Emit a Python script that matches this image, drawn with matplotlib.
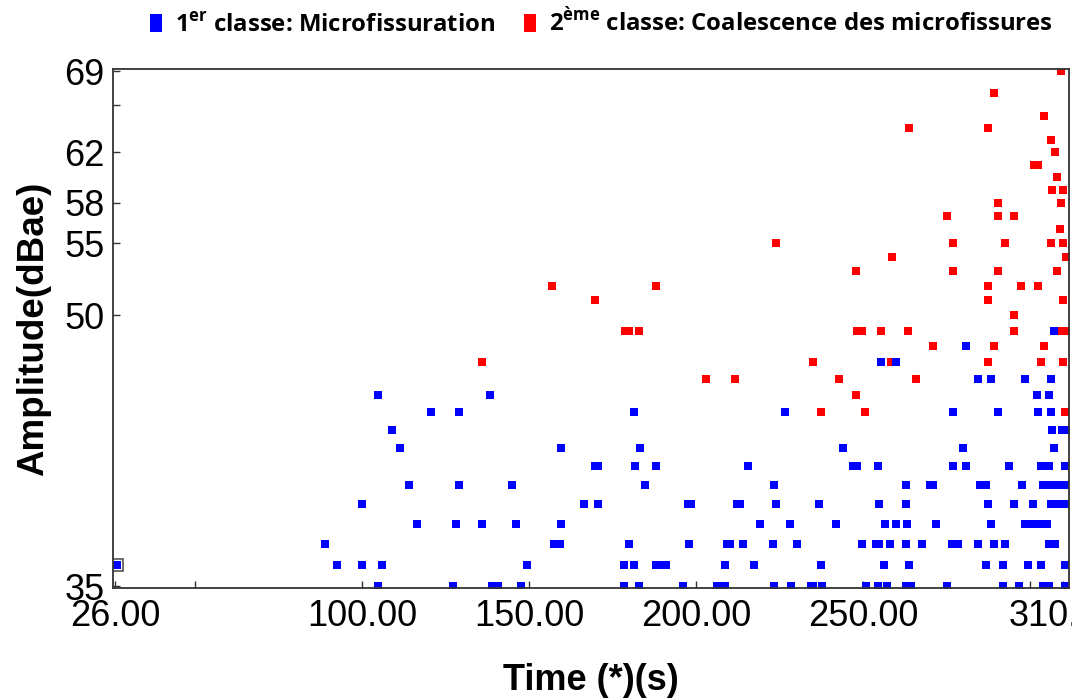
import matplotlib
matplotlib.use('Agg')
import matplotlib.pyplot as plt
from matplotlib.lines import Line2D
from matplotlib.ticker import FixedLocator, NullFormatter, FixedFormatter
from matplotlib.transforms import Bbox, TransformedBbox

# class 1 (blue) : time (s), amplitude (dB)
blue_t = [307.3,
          280.9,
          255.3, 259.8,
          284.4, 288.3, 298.4, 306.3,
          104.8, 138.4, 302.0, 305.7,
          120.6, 129.0, 181.4, 226.6, 277.0, 290.5, 302.3, 306.3,
          109.0, 306.5, 309.5, 310.7,
          111.4, 159.5, 183.1, 243.9, 280.0, 307.2,
          169.7, 170.7, 181.8, 187.9, 215.5, 247.0, 248.1, 254.5, 277.0, 280.9,
          293.8, 303.3, 305.7, 310.5,
          114.2, 129.0, 144.8, 184.6, 223.4, 262.8, 270.2, 271.1, 285.0, 286.8,
          297.5, 303.9, 306.0, 308.1, 310.4,
          99.9, 166.5, 170.7, 197.6, 198.5, 212.4, 213.3, 224.0, 236.7, 254.8,
          262.8, 287.4, 295.1, 300.9, 306.3, 308.4, 310.4,
          116.4, 128.0, 136.0, 146.0, 159.5, 219.2, 228.1, 241.9, 256.7, 260.0,
          263.1, 271.9, 288.3, 298.4, 300.6, 302.9, 305.0,
          88.9, 157.4, 159.3, 179.8, 197.9, 209.3, 210.2, 214.1, 223.0, 230.3,
          249.7, 253.9, 254.7, 258.0, 262.9, 267.8, 276.7, 278.4, 284.4, 289.2,
          292.5, 305.7, 307.4,
          26.5, 92.5, 99.9, 105.9, 149.3, 178.5, 181.5, 187.9, 189.5, 191.1,
          208.6, 217.5, 237.4, 256.2, 263.7, 286.8, 291.9, 299.3, 303.3, 310.5,
          104.8, 127.1, 138.8, 140.6, 147.6, 178.5, 183.0, 196.1, 206.2, 208.6,
          223.4, 228.4, 234.3, 235.0, 237.8, 250.8, 254.4, 257.1, 262.9, 264.5,
          275.1, 291.9, 296.6, 303.9, 305.7, 310.5]
blue_a = ([49] + [48] + [47] * 2 + [46] * 4 + [45] * 4 + [44] * 8 + [43] * 4
          + [42] * 6 + [41] * 14 + [40] * 15 + [39] * 17 + [38] * 17
          + [37] * 23 + [36] * 20 + [35] * 26)

# class 2 (red)
red_t = [309.4,
         289.2,
         304.2,
         263.7, 287.3,
         306.3,
         307.5,
         301.3, 302.4,
         308.1,
         306.5, 309.8,
         290.5, 309.4,
         275.2, 290.5, 295.1,
         309.0,
         224.0, 277.0, 292.4, 306.3, 309.8,
         258.6, 310.7,
         248.0, 277.0, 290.5, 308.1,
         157.0, 187.9, 287.3, 297.4, 302.5,
         169.7, 287.3, 309.8,
         295.1,
         178.7, 179.9, 182.9, 248.1, 249.7, 255.3, 263.6, 295.1, 309.6, 310.7,
         271.1, 289.2, 304.2,
         136.0, 235.0, 258.4, 287.3, 303.3, 309.8,
         202.9, 211.8, 242.9, 266.0,
         248.0,
         237.3, 250.5, 310.5]
red_a = ([69] + [67] + [65] + [64] * 2 + [63] + [62] + [61] * 2 + [60]
         + [59] * 2 + [58] * 2 + [57] * 3 + [56] + [55] * 5 + [54] * 2
         + [53] * 4 + [52] * 5 + [51] * 3 + [50] + [49] * 10 + [48] * 3
         + [47] * 6 + [46] * 4 + [45] + [44] * 3)

selected = (26.5, 36)

x_ticks = [26, 50, 100, 150, 200, 250, 300, 310]
x_labels = ['26.00', '', '100.00', '150.00', '200.00', '250.00', '', '310.00']
y_ticks = [35, 50, 55, 58, 62, 69]
y_minor = [66]

labels = ['1$^{\\mathbf{er}}$ classe: Microfissuration',
          '2$^{\\mathbf{\u00e8me}}$ classe: Coalescence des microfissures']

plt.rcParams['font.family'] = ['Liberation Sans', 'DejaVu Sans']
plt.rcParams['mathtext.fontset'] = 'custom'
plt.rcParams['mathtext.bf'] = 'Open Sans:bold'
plt.rcParams['mathtext.rm'] = 'Open Sans'

fig = plt.figure(figsize=(10.81, 6.98), dpi=100)
ax = fig.add_axes([0.1045, 0.1576, 0.8844, 0.7435])

ax.plot(red_t, red_a, ls='none', marker='s', ms=5.8, mew=0, color='#ff0000')
ax.plot(blue_t, blue_a, ls='none', marker='s', ms=5.8, mew=0, color='#0000ff')
ax.plot([selected[0]], [selected[1]], ls='none', marker='s', ms=8.5,
        mfc='none', mec='#555555', mew=1.2)

ax.set_yscale('log')
ax.set_xlim(25.4, 311.7)
ax.set_ylim(34.91, 69.18)

ax.xaxis.set_major_locator(FixedLocator(x_ticks))
ax.xaxis.set_major_formatter(FixedFormatter(x_labels))
ax.yaxis.set_major_locator(FixedLocator(y_ticks))
ax.yaxis.set_major_formatter(FixedFormatter([str(v) for v in y_ticks]))
ax.yaxis.set_minor_locator(FixedLocator(y_minor))
ax.yaxis.set_minor_formatter(NullFormatter())
ax.xaxis.set_minor_locator(FixedLocator([]))

ax.tick_params(which='both', direction='in', length=5, width=1,
               color='#333333', labelsize=26)
ax.tick_params(axis='x', pad=8)
ax.tick_params(axis='y', pad=6)
for s in ax.spines.values():
    s.set_color('#333333')
    s.set_linewidth(1.3)

# last x label is cut at the right edge of the plot
clip = TransformedBbox(Bbox([[0, 0], [1072 / 1081, 1]]), fig.transFigure)
last = ax.get_xticklabels()[-1]
last.set_clip_box(clip)
last.set_clip_on(True)

fig.text(0.5463, 0.0115, 'Time (*)(s)', fontsize=26, fontweight='bold',
         ha='center', va='baseline')
fig.text(0.031, 0.529, 'Amplitude(dBae)', fontsize=26.5, fontweight='bold',
         rotation=90, ha='center', va='center')

rect = [(-0.65, -1), (0.65, -1), (0.65, 1), (-0.65, 1), (-0.65, -1)]
handles = [Line2D([], [], ls='none', marker=rect, ms=13, mew=0, color='#0000ff'),
           Line2D([], [], ls='none', marker=rect, ms=13, mew=0, color='#ff0000')]
fig.legend(handles, labels, loc='center', bbox_to_anchor=(0.555, 0.967),
           ncol=2, frameon=False, handlelength=0.7, handletextpad=0.45,
           columnspacing=1.1,
           prop={'family': 'Open Sans', 'weight': 'bold', 'size': 17.2})

fig.savefig('out.png', dpi=100)
